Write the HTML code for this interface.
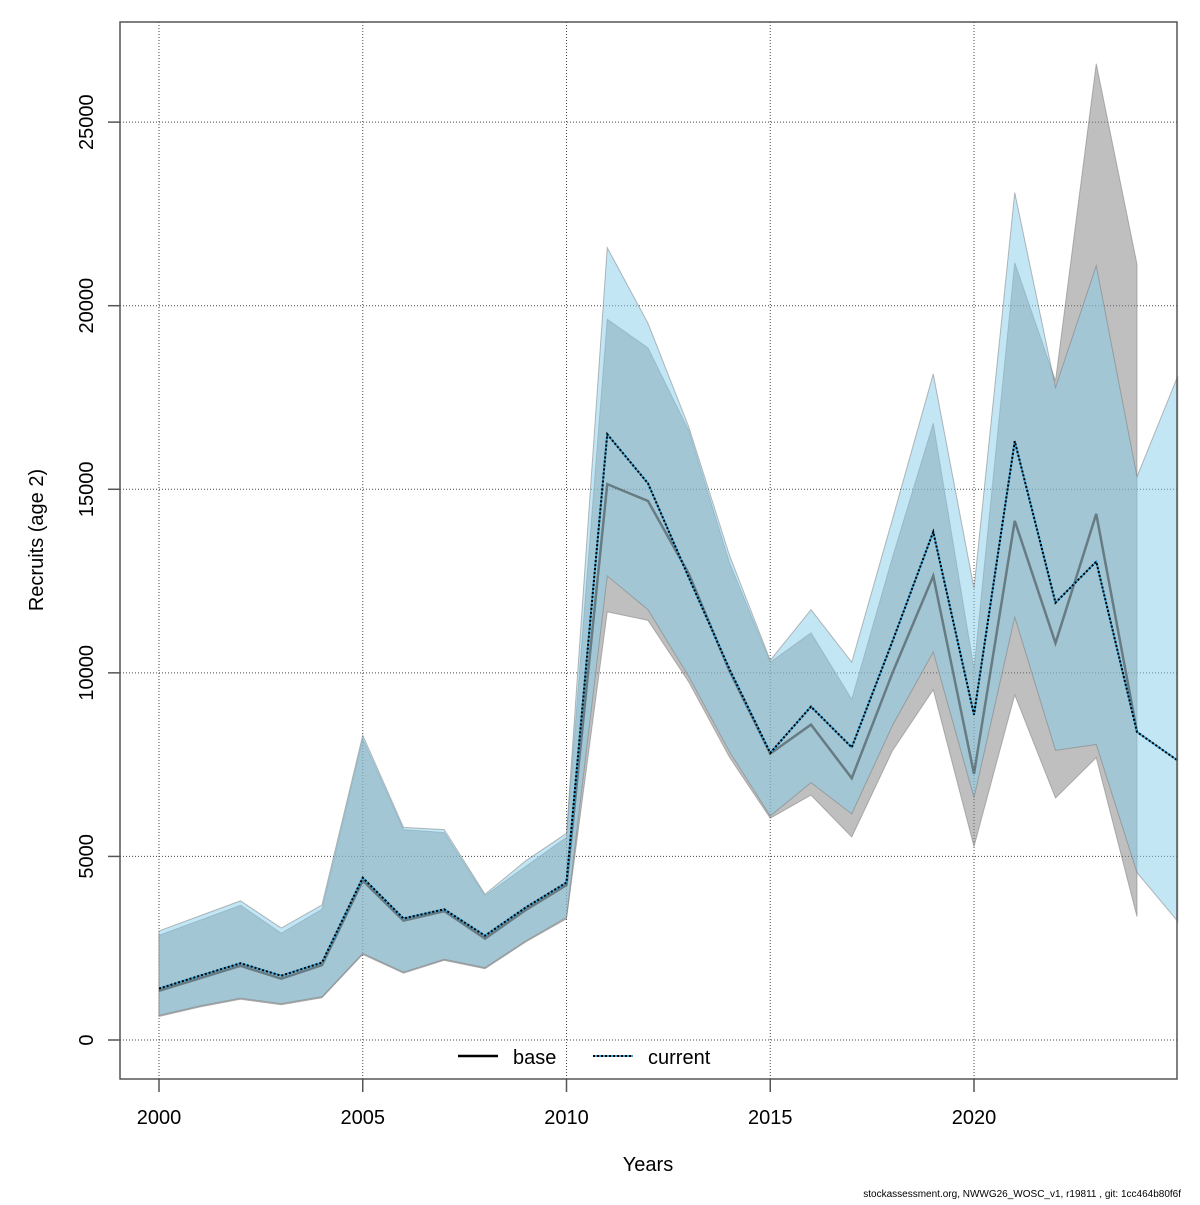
<!DOCTYPE html>
<html><head><meta charset="utf-8"><style>
body{margin:0;background:#fff}
svg text{font-family:"Liberation Sans",Arial,sans-serif;fill:#000}
</style></head><body>
<svg id="chart" width="1200" height="1200" viewBox="0 0 1200 1200" xmlns="http://www.w3.org/2000/svg">
<g id="grid"></g>
<g id="bands"></g>
<g id="lines"></g>
<rect x="120" y="22" width="1057" height="1057" fill="none" stroke="#555" stroke-width="1.5"/>
<g id="axes"></g>
<text x="648" y="1171" font-size="20" text-anchor="middle">Years</text>
<text transform="translate(43,540) rotate(-90)" font-size="20" text-anchor="middle">Recruits (age 2)</text>
<g>
<line x1="458" y1="1056" x2="498" y2="1056" stroke="#000" stroke-width="2.5"/>
<text x="513" y="1064" font-size="20">base</text>
<line x1="593" y1="1056" x2="633" y2="1056" stroke="#3aa3d6" stroke-width="2"/>
<line x1="593" y1="1056" x2="633" y2="1056" stroke="#000" stroke-width="2" stroke-dasharray="2,2"/>
<text x="648" y="1064" font-size="20">current</text>
</g>
<text x="1181" y="1197" font-size="10" text-anchor="end">stockassessment.org, NWWG26_WOSC_v1, r19811 , git: 1cc464b80f6f</text>
</svg>
<script>
const baseYears=[2000,2001,2002,2003,2004,2005,2006,2007,2008,2009,2010,2011,2012,2013,2014,2015,2016,2017,2018,2019,2020,2021,2022,2023,2024];
const baseMean=[1340,1680,2020,1670,2040,4340,3250,3510,2760,3540,4220,15140,14680,12700,10050,7800,8590,7130,10000,12640,7250,14140,10810,14330,8390];
const baseUpper=[2850,3260,3670,2910,3560,8200,5730,5650,3930,4730,5520,19630,18850,16600,13000,10290,11090,9280,13150,16800,10110,21170,17950,26590,21130];
const baseLower=[640,900,1110,960,1150,2330,1820,2170,1940,2670,3300,11660,11430,9750,7700,6040,6670,5530,7880,9540,5270,9400,6590,7690,3360];
const curYears=[2000,2001,2002,2003,2004,2005,2006,2007,2008,2009,2010,2011,2012,2013,2014,2015,2016,2017,2018,2019,2020,2021,2022,2023,2024,2025];
const curMean=[1400,1750,2090,1750,2110,4420,3310,3560,2840,3610,4290,16500,15160,12600,10100,7820,9080,7970,10860,13840,8860,16310,11910,13030,8390,7610];
const curUpper=[2970,3380,3790,3050,3680,8300,5790,5730,3970,4880,5630,21580,19520,16700,13200,10340,11720,10290,14190,18140,12300,23080,17770,21090,15340,18080];
const curLower=[670,930,1140,990,1180,2360,1850,2200,1970,2700,3340,12640,11720,9900,7850,6100,7010,6160,8570,10570,6600,11520,7890,8050,4560,3230];
const xTicks=[2000,2005,2010,2015,2020];
const yTicks=[0,5000,10000,15000,20000,25000];

const NS="http://www.w3.org/2000/svg";
const X=y=>159+(y-2000)*40.75;
const Y=v=>1040-v*0.036715;
function mk(tag,attrs,parent){const e=document.createElementNS(NS,tag);for(const k in attrs)e.setAttribute(k,attrs[k]);parent.appendChild(e);return e;}
const grid=document.getElementById('grid'),axes=document.getElementById('axes'),bands=document.getElementById('bands'),lines=document.getElementById('lines');
xTicks.forEach(t=>{
  const g=mk('line',{x1:X(t),x2:X(t),y1:22,y2:1079,stroke:'#444','stroke-width':1,'stroke-dasharray':'1,2'},grid);
  
  
  const tk=mk('line',{x1:X(t),x2:X(t),y1:1079,y2:1092,stroke:'#555','stroke-width':1.5},axes);
  
  
  const tx=mk('text',{x:X(t),y:1124,'font-size':20,'text-anchor':'middle'},axes);
  tx.textContent=t;
  
  
});
yTicks.forEach(t=>{
  const g=mk('line',{x1:120,x2:1177,y1:Y(t),y2:Y(t),stroke:'#444','stroke-width':1,'stroke-dasharray':'1,2'},grid);
  
  
  const tk=mk('line',{x1:108,x2:120,y1:Y(t),y2:Y(t),stroke:'#555','stroke-width':1.5},axes);
  
  
  const tx=mk('text',{transform:`translate(93,${Y(t)}) rotate(-90)`,'font-size':20,'text-anchor':'middle'},axes);
  tx.textContent=t;
  
  
});
function band(yrs,up,lo,fill,name){
  const pts=yrs.map((y,i)=>X(y)+','+Y(up[i])).concat(yrs.slice().reverse().map((y,i)=>X(y)+','+Y(lo[yrs.length-1-i])));
  const p=mk('polygon',{points:pts.join(' '),fill:fill,stroke:'rgba(120,120,120,0.5)','stroke-width':1},bands);
  
  
}
band(baseYears,baseUpper,baseLower,'rgba(128,128,128,0.5)','base-ci-band');
band(curYears,curUpper,curLower,'rgba(135,206,235,0.5)','current-ci-band');
const pl=(yrs,v)=>yrs.map((y,i)=>X(y)+','+Y(v[i])).join(' ');
const bl=mk('polyline',{points:pl(baseYears,baseMean),fill:'none',stroke:'rgba(30,30,30,0.45)','stroke-width':2.5},lines);


const cb=mk('polyline',{points:pl(curYears,curMean),fill:'none',stroke:'#3aa3d6','stroke-width':2},lines);


const cl=mk('polyline',{points:pl(curYears,curMean),fill:'none',stroke:'#000','stroke-width':2,'stroke-dasharray':'2,2'},lines);


</script>
</body></html>
